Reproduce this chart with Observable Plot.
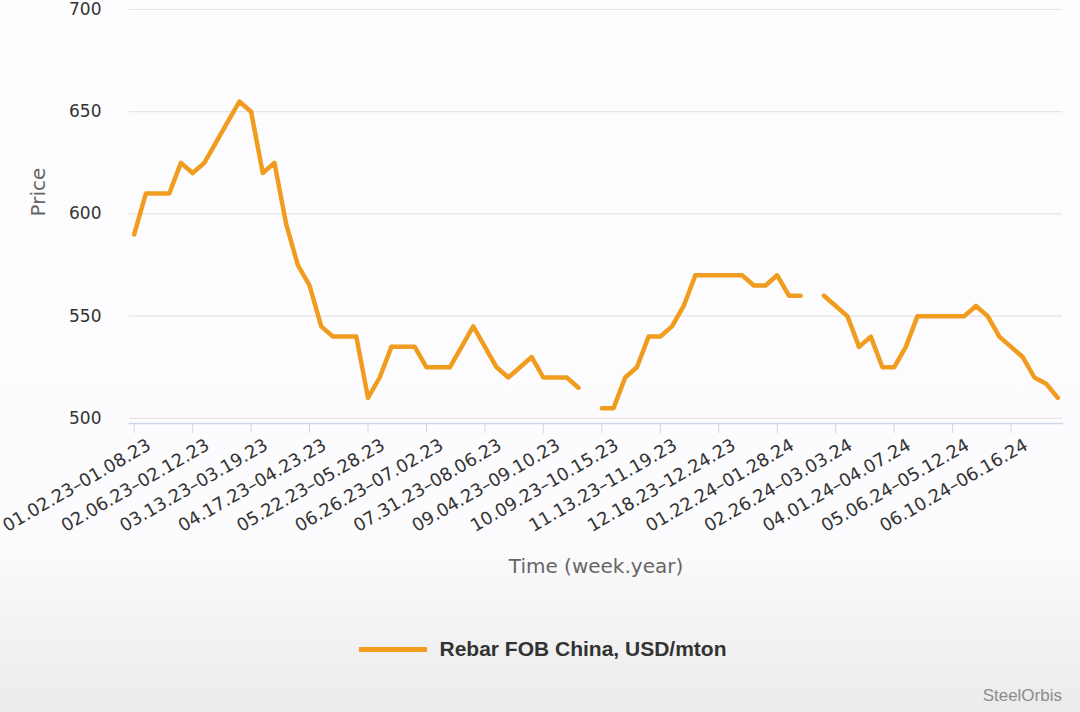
<!DOCTYPE html>
<html>
<head>
<meta charset="utf-8">
<script src="https://cdn.jsdelivr.net/npm/d3@7"></script>
<script src="https://cdn.jsdelivr.net/npm/@observablehq/plot@0.6"></script>
<style>
  html, body { margin: 0; padding: 0; }
  body {
    width: 1080px; height: 712px; overflow: hidden; position: relative;
    background: linear-gradient(to bottom, #fdfcfe 0%, #fcfbfd 76%, #ebebeb 100%);
    font-family: "DejaVu Sans", sans-serif;
  }
  #chart svg { display: block; }
  #legend {
    position: absolute; left: 3px; width: 1080px; top: 636px; height: 26px;
    display: flex; justify-content: center; align-items: center;
  }
  #legend .swatch { width: 68px; height: 5px; background: #f09c1e; margin-right: 12px; }
  #legend .label { font-family: "Liberation Sans", Arial, sans-serif; font-weight: bold; font-size: 21px; color: #333; }
  #credit {
    position: absolute; right: 18px; top: 686px;
    font-family: "Liberation Sans", Arial, sans-serif; font-size: 17px; color: #8c8c8c;
  }
</style>
</head>
<body>
<div id="chart"></div>
<div id="legend"><div class="swatch"></div><div class="label">Rebar FOB China, USD/mton</div></div>
<div id="credit">SteelOrbis</div>
<script>
const weeks = [
  "01.02.23–01.08.23","01.09.23–01.15.23","01.16.23–01.22.23","01.23.23–01.29.23","01.30.23–02.05.23",
  "02.06.23–02.12.23","02.13.23–02.19.23","02.20.23–02.26.23","02.27.23–03.05.23","03.06.23–03.12.23",
  "03.13.23–03.19.23","03.20.23–03.26.23","03.27.23–04.02.23","04.03.23–04.09.23","04.10.23–04.16.23",
  "04.17.23–04.23.23","04.24.23–04.30.23","05.01.23–05.07.23","05.08.23–05.14.23","05.15.23–05.21.23",
  "05.22.23–05.28.23","05.29.23–06.04.23","06.05.23–06.11.23","06.12.23–06.18.23","06.19.23–06.25.23",
  "06.26.23–07.02.23","07.03.23–07.09.23","07.10.23–07.16.23","07.17.23–07.23.23","07.24.23–07.30.23",
  "07.31.23–08.06.23","08.07.23–08.13.23","08.14.23–08.20.23","08.21.23–08.27.23","08.28.23–09.03.23",
  "09.04.23–09.10.23","09.11.23–09.17.23","09.18.23–09.24.23","09.25.23–10.01.23","10.02.23–10.08.23",
  "10.09.23–10.15.23","10.16.23–10.22.23","10.23.23–10.29.23","10.30.23–11.05.23","11.06.23–11.12.23",
  "11.13.23–11.19.23","11.20.23–11.26.23","11.27.23–12.03.23","12.04.23–12.10.23","12.11.23–12.17.23",
  "12.18.23–12.24.23","12.25.23–12.31.23","01.01.24–01.07.24","01.08.24–01.14.24","01.15.24–01.21.24",
  "01.22.24–01.28.24","01.29.24–02.04.24","02.05.24–02.11.24","02.12.24–02.18.24","02.19.24–02.25.24",
  "02.26.24–03.03.24","03.04.24–03.10.24","03.11.24–03.17.24","03.18.24–03.24.24","03.25.24–03.31.24",
  "04.01.24–04.07.24","04.08.24–04.14.24","04.15.24–04.21.24","04.22.24–04.28.24","04.29.24–05.05.24",
  "05.06.24–05.12.24","05.13.24–05.19.24","05.20.24–05.26.24","05.27.24–06.02.24","06.03.24–06.09.24",
  "06.10.24–06.16.24","06.17.24–06.23.24","06.24.24–06.30.24","07.01.24–07.07.24","07.08.24–07.14.24"
];

const prices = [
  590, 610, 610, 610, 625, 620, 625, 635, 645, 655,
  650, 620, 625, 595, 575, 565, 545, 540, 540, 540,
  510, 520, 535, 535, 535, 525, 525, 525, 535, 545,
  535, 525, 520, 525, 530, 520, 520, 520, 515, null,
  505, 505, 520, 525, 540, 540, 545, 555, 570, 570,
  570, 570, 570, 565, 565, 570, 560, 560, null, 560,
  555, 550, 535, 540, 525, 525, 535, 550, 550, 550,
  550, 550, 555, 550, 540, 535, 530, 520, 517, 510
];

const tickLabels = [
  "01.02.23–01.08.23","02.06.23–02.12.23","03.13.23–03.19.23","04.17.23–04.23.23",
  "05.22.23–05.28.23","06.26.23–07.02.23","07.31.23–08.06.23","09.04.23–09.10.23",
  "10.09.23–10.15.23","11.13.23–11.19.23","12.18.23–12.24.23","01.22.24–01.28.24",
  "02.26.24–03.03.24","04.01.24–04.07.24","05.06.24–05.12.24","06.10.24–06.16.24"
];

const yTicks = [500, 550, 600, 650, 700];

const seriesName = "Rebar FOB China, USD/mton";
const yTitle = "Price";
const xTitle = "Time (week.year)";

const data = weeks.map((w, i) => ({week: w, price: prices[i]}));

const chart = Plot.plot({
  width: 1080,
  height: 600,
  marginLeft: 129,
  marginRight: 18,
  marginTop: 9,
  marginBottom: 177,
  x: {type: "point", domain: weeks, padding: 0.4},
  y: {domain: [497.5, 700]},
  style: {fontFamily: "DejaVu Sans", fontSize: "17px", color: "#333", background: "transparent", overflow: "visible"},
  marks: [
    Plot.gridY(yTicks, {stroke: "#e6e6e6", strokeOpacity: 1, strokeWidth: 1.2}),
    Plot.axisY(yTicks, {tickSize: 0, tickPadding: 28, fontSize: 17, fill: "#333", label: null}),
    Plot.frame({anchor: "bottom", stroke: "#ccd6eb", strokeWidth: 1.5}),
    Plot.axisX(tickLabels, {tickSize: 10, stroke: "#ccd6eb", strokeOpacity: 1, tickFormat: () => "", label: null}),
    Plot.text(tickLabels, {x: d => d, frameAnchor: "bottom", dx: 18, dy: 25, rotate: -30,
      textAnchor: "end", lineAnchor: "bottom", fontSize: 17.8, fill: "#333"}),
    Plot.text([yTitle], {frameAnchor: "left", dx: -91, rotate: -90, fontSize: 20, fill: "#666"}),
    Plot.text([xTitle], {frameAnchor: "bottom", dy: 149, fontSize: 20, fill: "#666"}),
    Plot.line(data, {x: "week", y: "price", stroke: "#f09c1e", strokeWidth: 4.5,
      strokeLinejoin: "round", strokeLinecap: "round"})
  ]
});
document.getElementById("chart").appendChild(chart);
document.querySelector("#legend .label").textContent = seriesName;
</script>
</body>
</html>
